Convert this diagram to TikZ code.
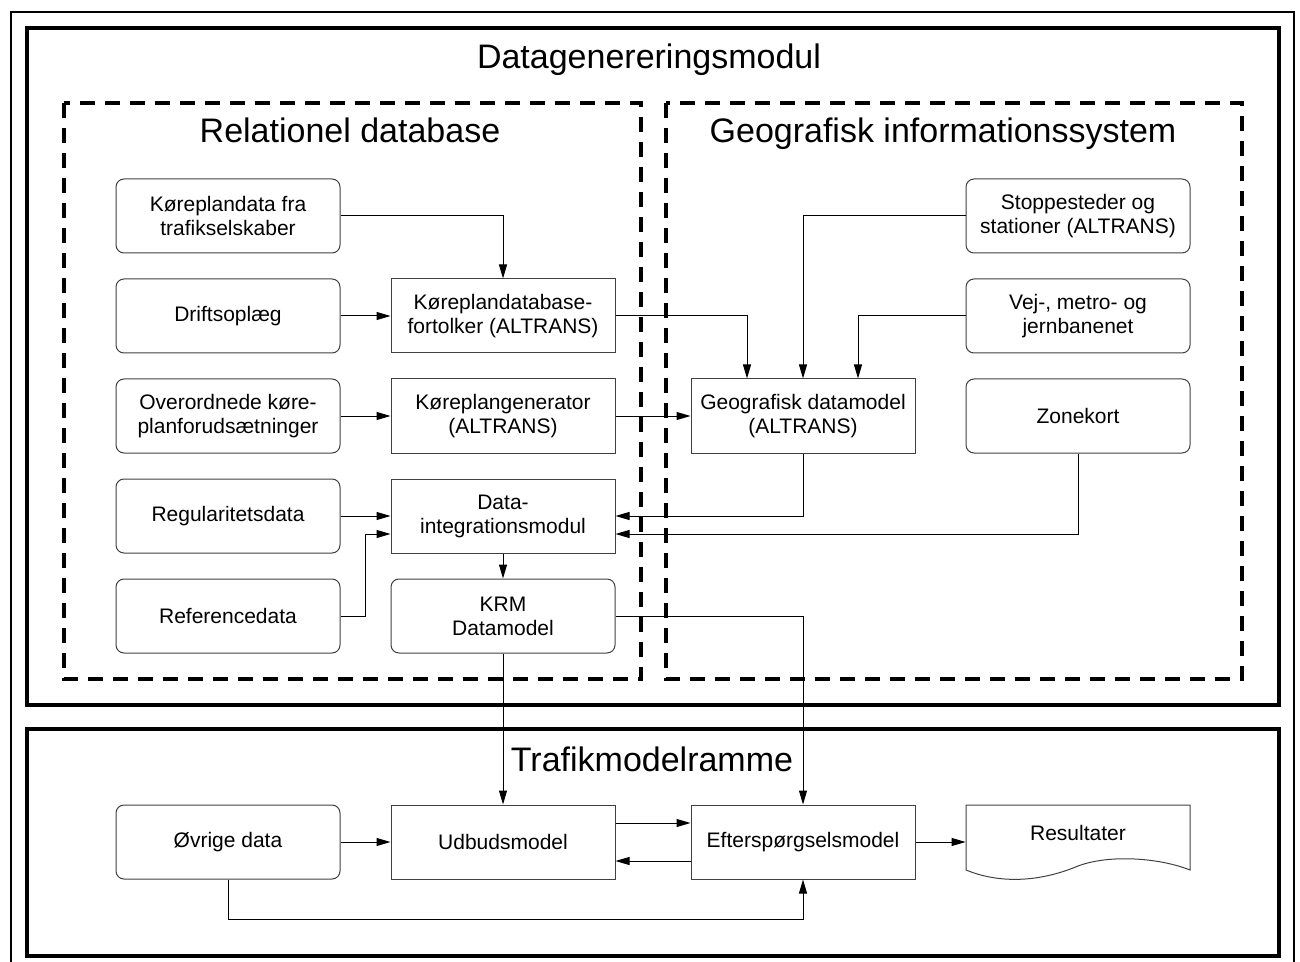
\documentclass[tikz,border=0pt]{standalone}
\usepackage{fontspec}
\setmainfont{Liberation Sans}
\usetikzlibrary{arrows.meta}

\begin{document}
\begin{tikzpicture}[x=0.5pt,y=-0.5pt]
\tikzstyle{every node}=[font=\fontsize{10.5}{12}\selectfont,align=center,inner sep=1pt]
\tikzstyle{rbox}=[draw=black!75,line width=0.5pt,rounded corners=4pt,minimum width=112pt,minimum height=37pt]
\tikzstyle{sbox}=[draw=black!75,line width=0.5pt,minimum width=112pt,minimum height=37pt]
\tikzstyle{docbox}=[minimum width=112pt,minimum height=37pt]
\tikzstyle{title}=[font=\fontsize{17}{20}\selectfont,anchor=base]
\tikzstyle{frame}=[line width=2pt]
\tikzstyle{dbox}=[line width=2pt,dash pattern=on 7.5pt off 5pt]
\tikzstyle{arr}=[line width=0.5pt,-{Triangle[length=7pt,width=4pt]}]
\useasboundingbox (0,0) rectangle (1300,962);
\draw[line width=1pt] (11,964) -- (11,12) -- (1294,12) -- (1294,964);
\draw[frame] (27,28) rectangle (1279,705);
\draw[frame] (27,729) rectangle (1279,956);
\draw[dbox] (64,103) rectangle (641,679);
\draw[dbox] (666,103) rectangle (1242,679);
\node[title] (dgm) at (649,69) {Datagenereringsmodul};
\node[title] (rdb) at (350,143) {Relationel database};
\node[title] (gis) at (943,143) {Geografisk informationssystem};
\node[title] (tmr) at (652,771) {Trafikmodelramme};
\node[rbox] (kd) at (228,216) {Køreplandata fra\\trafikselskaber};
\node[rbox] (dop) at (228,316) {Driftsoplæg};
\node[rbox] (ovk) at (228,416) {Overordnede køre-\\planforudsætninger};
\node[rbox] (reg) at (228,516) {Regularitetsdata};
\node[rbox] (ref) at (228,616) {Referencedata};
\node[sbox] (kdf) at (503,316) {Køreplandatabase-\\fortolker (ALTRANS)};
\node[sbox] (kpg) at (503,416) {Køreplangenerator\\(ALTRANS)};
\node[sbox] (dim) at (503,516) {Data-\\integrationsmodul};
\node[rbox] (krm) at (503,616) {KRM\\Datamodel};
\node[sbox] (geo) at (803,416) {Geografisk datamodel\\(ALTRANS)};
\node[rbox] (stop) at (1078,216) {Stoppesteder og\\stationer (ALTRANS)};
\node[rbox] (vej) at (1078,316) {Vej-, metro- og\\jernbanenet};
\node[rbox] (zone) at (1078,416) {Zonekort};
\node[rbox] (ovr) at (228,842) {Øvrige data};
\node[sbox] (udb) at (503,842) {Udbudsmodel};
\node[sbox] (eft) at (803,842) {Efterspørgselsmodel};
\node[docbox] (res) at (1078,842) {};
\node (restxt) at (1078,833) {Resultater};
\draw[draw=black!75,line width=0.5pt] (966,805) -- (1190,805) -- (1190,870)
  .. controls (1160,858) and (1110,854) .. (1078,866)
  .. controls (1040,882) and (1000,884) .. (966,870) -- cycle;
\draw[arr] (kd.east) -| (kdf.north);
\draw[arr] (dop) -- (kdf);
\draw[arr] (ovk) -- (kpg);
\draw[arr] (kpg) -- (geo);
\draw[arr] (kdf.east) -| ([xshift=-28pt]geo.north);
\draw[arr] (stop.west) -| (geo.north);
\draw[arr] (vej.west) -| ([xshift=27.5pt]geo.north);
\draw[arr] (reg) -- (dim);
\draw[arr] (ref.east) -- ++(12.5pt,0) |- ([yshift=-9pt]dim.west);
\draw[arr] (geo.south) |- (dim.east);
\draw[arr] (zone.south) |- ([yshift=-9pt]dim.east);
\draw[arr] (dim) -- (krm);
\draw[arr] (krm.south) -- (udb.north);
\draw[arr] (krm.east) -| (eft.north);
\draw[arr] (ovr) -- (udb);
\draw[arr] ([yshift=9.5pt]udb.east) -- ([yshift=9.5pt]eft.west);
\draw[arr] ([yshift=-9.5pt]eft.west) -- ([yshift=-9.5pt]udb.east);
\draw[arr] (eft) -- (res);
\draw[arr] (ovr.south) -- ++(0,-20pt) -| (eft.south);
\end{tikzpicture}
\end{document}
